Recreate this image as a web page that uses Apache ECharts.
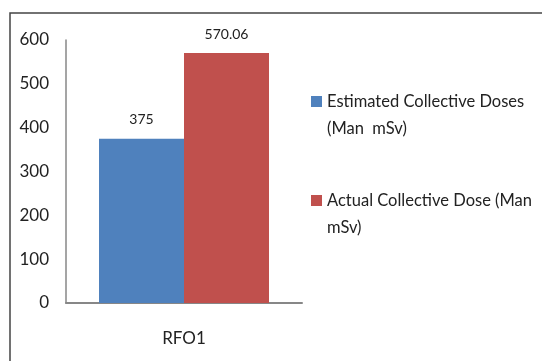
<!DOCTYPE html>
<html>
<head>
<meta charset="utf-8">
<script src="https://cdn.jsdelivr.net/npm/echarts@6/dist/echarts.min.js"></script>
<style>
  html, body { margin: 0; padding: 0; background: #fff; }
  #chart { width: 542px; height: 361px; }
</style>
</head>
<body>
<div id="chart"></div>
<script>
// Collective dose comparison for the RFO1 outage
const categories = ['RFO1'];
const seriesNames = ['Estimated Collective Doses (Man  mSv)', 'Actual Collective Dose (Man mSv)'];
const legendText = ['Estimated Collective Doses\n(Man  mSv)', 'Actual Collective Dose (Man\nmSv)'];
const estimatedDose = [375];
const actualDose = [570.06];
const valueLabels = [['375'], ['570.06']];
const colors = ['#4F81BD', '#C0504D'];

const FONT = 'Lato, "Open Sans", sans-serif';
const chart = echarts.init(document.getElementById('chart'), null, { renderer: 'canvas' });

function barSeries(idx, data) {
  return {
    name: seriesNames[idx],
    type: 'bar',
    data: data,
    barWidth: 85,
    barGap: '0%',
    itemStyle: { color: colors[idx] },
    label: {
      show: true,
      position: 'top',
      distance: 12,
      fontFamily: FONT,
      fontSize: 14,
      color: '#222',
      formatter: (p) => valueLabels[idx][p.dataIndex]
    }
  };
}

chart.setOption({
  animation: false,
  backgroundColor: '#fff',
  graphic: [{
    type: 'rect',
    shape: { x: 10, y: 13, width: 600, height: 400 },
    style: { fill: 'none', stroke: '#444', lineWidth: 1.5 },
    silent: true,
    z: -1
  }],
  grid: { left: 66, right: 240, top: 40, bottom: 58 },
  legend: {
    orient: 'vertical',
    left: 306,
    top: 56,
    itemWidth: 11,
    itemHeight: 11,
    itemGap: 18,
    icon: 'rect',
    formatter: (name) => '\n' + legendText[seriesNames.indexOf(name)],
    textStyle: { fontFamily: FONT, fontSize: 16.5, color: '#222', lineHeight: 27 },
    data: seriesNames
  },
  xAxis: {
    type: 'category',
    data: categories,
    axisLine: { lineStyle: { color: '#878787', width: 2 } },
    axisTick: { show: false },
    axisLabel: { margin: 27, fontFamily: FONT, fontSize: 17, color: '#222' }
  },
  yAxis: {
    type: 'value',
    min: 0,
    max: 600,
    interval: 100,
    axisLine: { show: true, lineStyle: { color: '#878787', width: 1.5 } },
    axisTick: { show: false },
    splitLine: { show: false },
    axisLabel: { margin: 17, fontFamily: FONT, fontSize: 17, color: '#222' }
  },
  series: [barSeries(0, estimatedDose), barSeries(1, actualDose)]
});
</script>
</body>
</html>
